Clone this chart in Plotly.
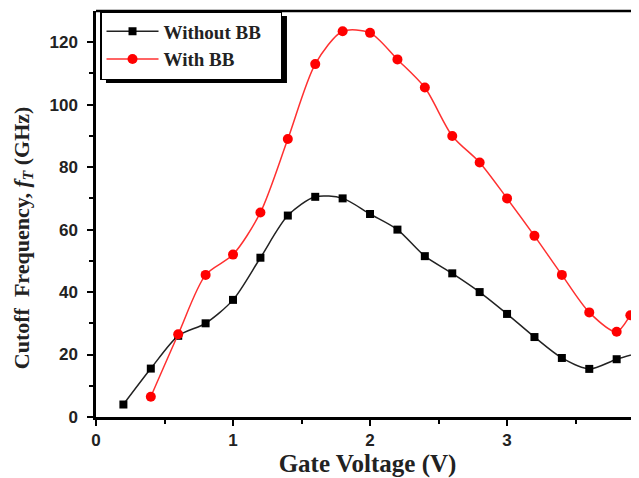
import plotly.graph_objects as go

x_without = [0.2, 0.4, 0.6, 0.8, 1.0, 1.2, 1.4, 1.6, 1.8, 2.0, 2.2, 2.4, 2.6, 2.8, 3.0, 3.2, 3.4, 3.6, 3.8, 4.0]
y_without = [4.0, 15.5, 26.0, 30.0, 37.5, 51.0, 64.5, 70.5, 70.0, 65.0, 60.0, 51.5, 46.0, 40.0, 33.0, 25.6, 18.9, 15.4, 18.5, 21.0]

x_with = [0.4, 0.6, 0.8, 1.0, 1.2, 1.4, 1.6, 1.8, 2.0, 2.2, 2.4, 2.6, 2.8, 3.0, 3.2, 3.4, 3.6, 3.8, 3.9, 4.0]
y_with = [6.5, 26.5, 45.5, 52.0, 65.5, 89.0, 113.0, 123.5, 123.0, 114.5, 105.5, 90.0, 81.5, 70.0, 58.0, 45.5, 33.5, 27.3, 32.6, 40.0]

x_ticks = [0, 1, 2, 3, 4]
y_ticks = [0, 20, 40, 60, 80, 100, 120]

fig = go.Figure()
fig.add_trace(go.Scatter(
    x=x_without, y=y_without, name="<b>Without BB</b>&nbsp;&nbsp;&nbsp;", mode="lines+markers",
    line=dict(color="#222222", width=1.5, shape="spline", smoothing=0.8),
    marker=dict(symbol="square", color="black", size=8),
))
fig.add_trace(go.Scatter(
    x=x_with, y=y_with, name="<b>With BB</b>", mode="lines+markers",
    line=dict(color="#ff3030", width=1.5, shape="spline", smoothing=0.8),
    marker=dict(symbol="circle", color="#ff0000", size=10),
))

# legend drop shadow
fig.add_shape(type="rect", xref="paper", yref="paper",
              x0=0.0184, x1=0.3517, y0=0.8227, y1=0.9877,
              fillcolor="black", line=dict(width=0), layer="above")

fig.update_layout(
    width=639, height=478,
    margin=dict(l=88, r=8, t=3, b=69),
    paper_bgcolor="white", plot_bgcolor="white",
    showlegend=True,
    legend=dict(x=0.0074, y=1.0, xanchor="left", yanchor="top",
                bgcolor="white", bordercolor="black", borderwidth=1.5,
                font=dict(family="Liberation Serif", size=19, color="#222222"),
                itemwidth=52, tracegroupgap=0),
    xaxis=dict(range=[0, 3.963], tickvals=x_ticks, ticks="outside", ticklen=6, tickwidth=2,
               tickcolor="black", showline=True, linewidth=2.5, linecolor="black",
               mirror=False, showgrid=False, zeroline=False, automargin=False,
               minor=dict(tickvals=[0.5, 1.5, 2.5, 3.5], ticks="outside", ticklen=4, tickwidth=2, tickcolor="black"),
               tickfont=dict(family="Liberation Sans", size=17, color="#222222", weight="bold"),
               title=dict(text="<b>Gate Voltage (V)</b>", standoff=5,
                          font=dict(family="Liberation Serif", size=25, color="#222222"))),
    yaxis=dict(range=[0, 130], tickvals=y_ticks, ticks="outside", ticklen=6, tickwidth=2,
               tickcolor="black", showline=True, linewidth=2.5, linecolor="black",
               mirror=False, showgrid=False, zeroline=False, automargin=False,
               ticklabelstandoff=6,
               minor=dict(tickvals=[10, 30, 50, 70, 90, 110], ticks="outside", ticklen=4, tickwidth=2, tickcolor="black"),
               tickfont=dict(family="Liberation Sans", size=17, color="#222222", weight="bold")),
    annotations=[dict(
        text="<b>Cutoff  Frequency, <i>f<sub>T</sub></i> (GHz)</b>",
        xref="paper", yref="paper", x=-0.1344, y=0.4405,
        xanchor="center", yanchor="middle", textangle=-90, showarrow=False,
        font=dict(family="Liberation Serif", size=22, color="#222222"))],
)
# top border line
fig.add_shape(type="line", xref="paper", yref="paper", x0=0, x1=1, y0=1, y1=1,
              line=dict(color="black", width=2.5))

fig.write_html("out.html")
